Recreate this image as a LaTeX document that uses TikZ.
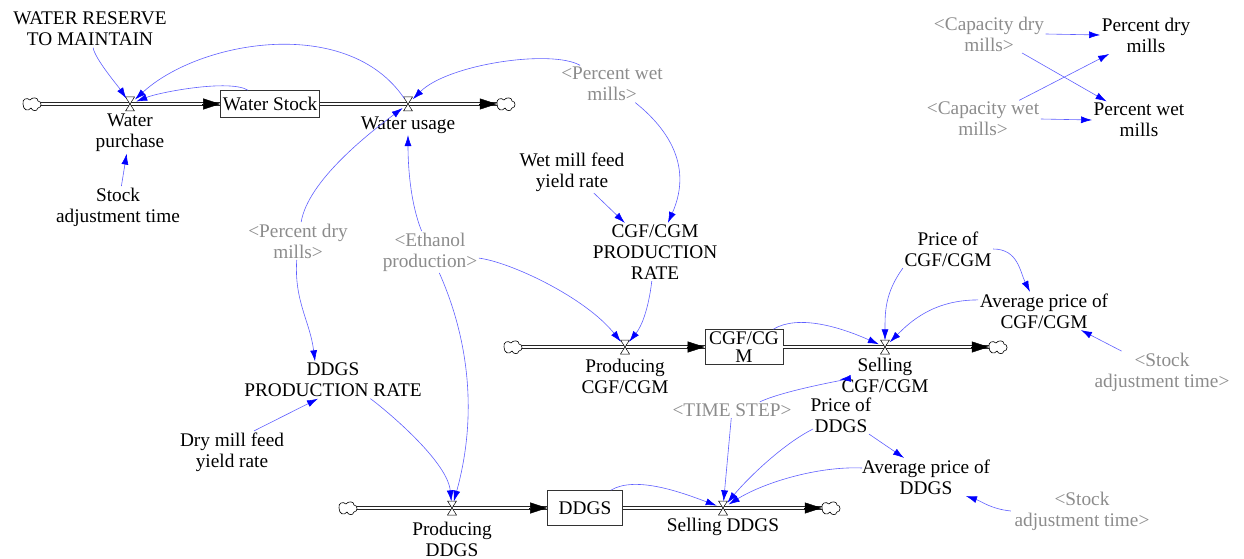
\documentclass[tikz,border=0pt]{standalone}
\usepackage{fontspec}
\setmainfont{Liberation Serif}
\usetikzlibrary{arrows.meta,calc}
\definecolor{linkc}{RGB}{95,95,255}
\definecolor{shadow}{RGB}{140,140,140}
\tikzset{
  var/.style={align=center, inner sep=1.5pt, font=\fontsize{19.3}{21}\selectfont},
  shad/.style={var, text=shadow},
  stockbox/.style={draw=black!80, line width=0.6pt, inner sep=0pt, align=center, font=\fontsize{19.3}{18}\selectfont},
  valvept/.style={circle, minimum size=13pt, inner sep=0pt},
  cloudn/.style={rectangle, minimum width=18pt, minimum height=13pt, inner sep=0pt},
  pipe/.style={draw=black!85, line width=0.7pt, double=white, double distance=2.6pt},
  flowtip/.style={-{Triangle[length=17pt,width=11pt]}, line width=0.4pt},
  link/.style={draw=linkc, line width=0.6pt, -{Latex[length=11pt,width=7pt,color=blue]}},
  valve/.pic={\draw[fill=white,line width=0.5pt] (-4.5,-7) -- (4.5,-7) -- (-4.5,7) -- (4.5,7) -- cycle;},
  cloudp/.pic={\draw[fill=white,line width=0.6pt] (-9,0) .. controls (-10,-5) and (-5,-7) .. (-2,-4)
     .. controls (0,-7) and (6,-7) .. (6,-3) .. controls (10,-3) and (10,4) .. (6,4)
     .. controls (5,8) and (0,7) .. (-1,4) .. controls (-4,8) and (-9,6) .. (-9,0) -- cycle;}
}
\begin{document}
\begin{tikzpicture}[x=1pt,y=-1pt]
\useasboundingbox (0,0) rectangle (1244,559);

% ---- water row
\node[var] (wrm) at (90,29) {WATER RESERVE\\TO MAINTAIN};
\node[cloudn] (c1) at (32,104) {};
\node[valvept] (wp) at (130,104) {};
\node[var] (wpl) at (130,133) {Water\\purchase};
\node[stockbox, minimum width=99pt, minimum height=27pt] (ws) at (270,104) {Water Stock};
\node[valvept] (wu) at (408,104) {};
\node[var] (wul) at (408,125) {Water usage};
\node[cloudn] (c2) at (506,104) {};
\node[var] (sat1) at (118,207) {Stock\\adjustment time};

% ---- middle variables
\node[shad] (pwms) at (612,84) {<Percent wet\\mills>};
\node[var] (wmf) at (572,172) {Wet mill feed\\yield rate};
\node[var] (cpr) at (655,252) {CGF/CGM\\PRODUCTION\\RATE};
\node[shad] (pdms) at (298,241) {<Percent dry\\mills>};
\node[shad] (eth) at (430,252) {<Ethanol\\production>};
\node[var] (dpr) at (333,380) {DDGS\\PRODUCTION RATE};
\node[var] (dmf) at (232,452) {Dry mill feed\\yield rate};

% ---- CGF/CGM row
\node[cloudn] (c3) at (513,347) {};
\node[valvept] (pc) at (625,347) {};
\node[var] (pcl) at (625,376) {Producing\\CGF/CGM};
\node[stockbox, minimum width=78pt, minimum height=35pt] (cgf) at (744,347) {CGF/CG\\M};
\node[valvept] (sc) at (885,347) {};
\node[var] (scl) at (885,375) {Selling\\CGF/CGM};
\node[cloudn] (c4) at (998,347) {};
\node[var] (pcg) at (948,249) {Price of\\CGF/CGM};
\node[var] (apc) at (1044,311) {Average price of\\CGF/CGM};
\node[shad] (sat2) at (1162,372) {<Stock\\adjustment time>};

% ---- DDGS row
\node[cloudn] (c5) at (348,508) {};
\node[valvept] (pd) at (452,508) {};
\node[var] (pdl) at (452,539) {Producing\\DDGS};
\node[stockbox, minimum width=75pt, minimum height=35pt] (ddgs) at (585,508) {DDGS};
\node[valvept] (sd) at (723,508) {};
\node[var] (sdl) at (723,527) {Selling DDGS};
\node[cloudn] (c6) at (831,508) {};
\node[shad] (ts) at (732,410) {<TIME STEP>};
\node[var] (pdd) at (841,415) {Price of\\DDGS};
\node[var] (apd) at (926,477) {Average price of\\DDGS};
\node[shad] (sat3) at (1082,511) {<Stock\\adjustment time>};

% ---- top right
\node[shad] (cdm) at (989,34) {<Capacity dry\\mills>};
\node[var] (pdm) at (1146,35) {Percent dry\\mills};
\node[shad] (cwm) at (983,119) {<Capacity wet\\mills>};
\node[var] (pwm) at (1139,120) {Percent wet\\mills};

% ---- pipes
\draw[pipe] (c1.east) -- (ws.west);
\draw[flowtip] ($(ws.west)+(-18,0)$) -- (ws.west);
\draw[pipe] (ws.east) -- (c2.west);
\draw[flowtip] ($(c2.west)+(-18,0)$) -- (c2.west);
\draw[pipe] (c3.east) -- (cgf.west);
\draw[flowtip] ($(cgf.west)+(-18,0)$) -- (cgf.west);
\draw[pipe] (cgf.east) -- (c4.west);
\draw[flowtip] ($(c4.west)+(-18,0)$) -- (c4.west);
\draw[pipe] (c5.east) -- (ddgs.west);
\draw[flowtip] ($(ddgs.west)+(-18,0)$) -- (ddgs.west);
\draw[pipe] (ddgs.east) -- (c6.west);
\draw[flowtip] ($(c6.west)+(-18,0)$) -- (c6.west);
\foreach \v in {wp,wu,pc,sc,pd,sd} {\pic at (\v) {valve};}
\foreach \c in {c1,c2,c3,c4,c5,c6} {\pic at (\c) {cloudp};}

% ---- links
\draw[link] (wrm) .. controls +(5,30) and +(-12,-18) .. (wp);
\draw[link] (sat1) -- (wpl);
\draw[link] (ws) .. controls +(-40,-25) and +(30,-12) .. (wp);
\draw[link] (wu) .. controls +(-60,-89) and +(70,-64) .. (wp);
\draw[link] (pwms) .. controls +(-60,-35) and +(40,-40) .. (wu);
\draw[link] (pwms) .. controls +(50,40) and +(40,-90) .. (cpr);
\draw[link] (wmf) -- (cpr);
\draw[link] (pdms) .. controls +(10,-60) and +(-40,30) .. (wu);
\draw[link] (eth) .. controls +(-20,-50) and +(0,40) .. (wul);
\draw[link] (pdms) .. controls +(-4,60) and +(-5,-40) .. ($(dpr.north)+(-18,0)$);
\draw[link] (eth) .. controls +(40,90) and +(25,-90) .. (pd);
\draw[link] (dpr) .. controls +(40,20) and +(-5,-50) .. (pd);
\draw[link] ($(dmf.north)+(22,0)$) -- ($(dpr.south)+(-15,0)$);
\draw[link] (eth) .. controls +(80,10) and +(-40,-50) .. (pc);
\draw[link] (cpr) .. controls +(-5,45) and +(20,-25) .. (pc);
\draw[link] ($(cgf.north east)+(-10,0)$) .. controls +(25,-15) and +(-45,-20) .. (sc);
\draw[link] (pcg.south west) .. controls +(-18,25) and +(0,-35) .. (sc);
\draw[link] ($(apc.north west)+(0,8)$) .. controls +(-45,0) and +(25,-25) .. (sc);
\draw[link] (pcg.east) .. controls +(25,0) and +(-10,-20) .. ($(apc.north)+(-14,0)$);
\draw[link] (sat2) -- (apc);
\draw[link] ($(ts.north)+(28,0)$) .. controls +(25,-12) and +(-30,3) .. (scl);
\draw[link] (ts) -- (sd);
\draw[link] ($(pdd.west)+(4,14)$) .. controls +(-30,15) and +(25,-30) .. (sd);
\draw[link] ($(apd.west)+(2,-9)$) .. controls +(-45,-2) and +(40,-25) .. (sd);
\draw[link] ($(ddgs.north east)+(-12,0)$) .. controls +(25,-15) and +(-40,-15) .. (sd);
\draw[link] (pdd) -- ($(apd.north)+(-22,0)$);
\draw[link] ($(sat3.west)+(-2,0)$) .. controls +(-20,-2) and +(15,5) .. ($(apd.south)+(40,0)$);
\draw[link] (cdm.east) -- (pdm.west);
\draw[link] (cdm) -- (pwm);
\draw[link] (cwm) -- (pdm);
\draw[link] (cwm.east) -- (pwm.west);
\end{tikzpicture}
\end{document}
